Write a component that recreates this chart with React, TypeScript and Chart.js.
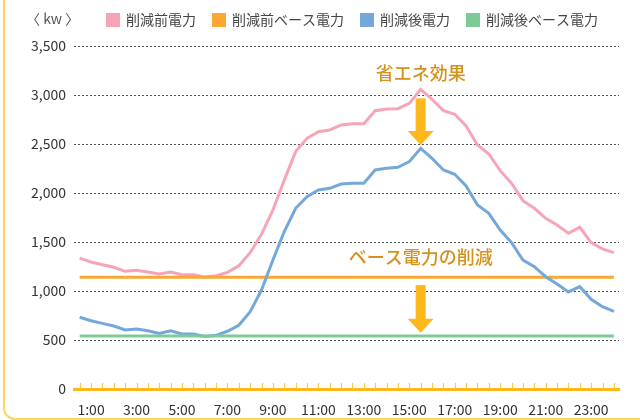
import React, { useEffect, useRef } from "react";
import { Chart, registerables } from "chart.js";

Chart.register(...registerables);

const timeLabels = [
  "0:30", "1:00", "1:30", "2:00", "2:30", "3:00", "3:30", "4:00", "4:30", "5:00", "5:30", "6:00",
  "6:30", "7:00", "7:30", "8:00", "8:30", "9:00", "9:30", "10:00", "10:30", "11:00", "11:30", "12:00",
  "12:30", "13:00", "13:30", "14:00", "14:30", "15:00", "15:30", "16:00", "16:30", "17:00", "17:30", "18:00",
  "18:30", "19:00", "19:30", "20:00", "20:30", "21:00", "21:30", "22:00", "22:30", "23:00", "23:30", "24:00",
];

const beforePower = [
  1335, 1296, 1268, 1242, 1201, 1211, 1194, 1173, 1194, 1167, 1167, 1143,
  1156, 1190, 1258, 1391, 1580, 1826, 2133, 2422, 2558, 2626, 2643, 2694,
  2707, 2707, 2840, 2857, 2860, 2915, 3058, 2956, 2840, 2803, 2684, 2490,
  2398, 2228, 2099, 1922, 1844, 1742, 1673, 1589, 1650, 1493, 1429, 1391,
];

const afterPower = [
  732, 697, 670, 643, 602, 612, 595, 568, 595, 561, 561, 537,
  548, 589, 650, 789, 1010, 1316, 1605, 1844, 1962, 2031, 2048, 2092,
  2099, 2099, 2235, 2252, 2262, 2320, 2456, 2354, 2235, 2191, 2072, 1878,
  1793, 1622, 1493, 1316, 1248, 1146, 1071, 990, 1044, 915, 840, 793,
];

const beforeBase = 1140;
const afterBase = 540;

const seriesNames = ["削減前電力", "削減前ベース電力", "削減後電力", "削減後ベース電力"];
const seriesColors = ["#F6A5B7", "#F9A833", "#75A8DA", "#7CCB97"];

const yTicks = [0, 500, 1000, 1500, 2000, 2500, 3000, 3500];
const unitLabel = "〈 kw 〉";
const noteSaving = "省エネ効果";
const noteBase = "ベース電力の削減";
const peakIndex = 30;

const FONT = "'Noto Sans CJK JP', 'Noto Sans', sans-serif";
const ARROW = "#FFB81C";
const NOTE = "#D4911C";

const overlayPlugin = {
  id: "overlay",
  afterDraw(chart: any) {
    const ctx = chart.ctx;
    const x = chart.scales.x;
    const y = chart.scales.y;
    const area = chart.chartArea;
    ctx.save();
    // tick marks above axis
    ctx.strokeStyle = "#FFC93C";
    ctx.lineWidth = 1.2;
    x.ticks.forEach((t: any) => {
      const px = Math.round(x.getPixelForValue(t.value)) + 0.5;
      ctx.beginPath();
      ctx.moveTo(px, area.bottom - 6);
      ctx.lineTo(px, area.bottom);
      ctx.stroke();
    });
    // unit label
    ctx.fillStyle = "#555";
    ctx.font = `14px ${FONT}`;
    ctx.textBaseline = "middle";
    ctx.textAlign = "left";
    ctx.fillText(unitLabel, 26, 19);
    // legend
    let lx = 106;
    seriesNames.forEach((name, i) => {
      ctx.fillStyle = seriesColors[i];
      ctx.fillRect(lx, 13, 14, 14);
      ctx.fillStyle = "#444";
      ctx.fillText(name, lx + 20, 20);
      lx += 20 + ctx.measureText(name).width + 16;
    });
    // annotations
    const cx = x.getPixelForValue(peakIndex);
    ctx.fillStyle = NOTE;
    ctx.font = `500 18px ${FONT}`;
    ctx.textAlign = "center";
    ctx.fillText(noteSaving, cx, y.getPixelForValue(3225));
    ctx.fillText(noteBase, cx, y.getPixelForValue(1347));
    const drawArrow = (top: number, tip: number) => {
      const headH = 14;
      ctx.fillStyle = ARROW;
      ctx.fillRect(cx - 5, top, 10, tip - headH - top + 1);
      ctx.beginPath();
      ctx.moveTo(cx - 13, tip - headH);
      ctx.lineTo(cx + 13, tip - headH);
      ctx.lineTo(cx, tip);
      ctx.closePath();
      ctx.fill();
    };
    drawArrow(y.getPixelForValue(2965), y.getPixelForValue(2490));
    drawArrow(y.getPixelForValue(1060), y.getPixelForValue(575));
    ctx.restore();
  },
};

export default function App() {
  const ref = useRef<HTMLCanvasElement | null>(null);
  useEffect(() => {
    document.body.style.margin = "0";
    if (!ref.current) return;
    const lastIdx = timeLabels.length - 1;
    const chart = new Chart(ref.current, {
      type: "line",
      data: {
        datasets: [
          {
            label: seriesNames[0],
            data: beforePower.map((v, i) => ({ x: i, y: v })),
            borderColor: seriesColors[0],
            borderWidth: 3,
            pointRadius: 0,
            order: 3,
          },
          {
            label: seriesNames[1],
            data: [{ x: 0, y: beforeBase }, { x: lastIdx, y: beforeBase }],
            borderColor: seriesColors[1],
            borderWidth: 3,
            pointRadius: 0,
            order: 2,
          },
          {
            label: seriesNames[2],
            data: afterPower.map((v, i) => ({ x: i, y: v })),
            borderColor: seriesColors[2],
            borderWidth: 3,
            pointRadius: 0,
            order: 1,
          },
          {
            label: seriesNames[3],
            data: [{ x: 0, y: afterBase }, { x: lastIdx, y: afterBase }],
            borderColor: seriesColors[3],
            borderWidth: 3,
            pointRadius: 0,
            order: 0,
          },
        ],
      },
      options: {
        animation: false,
        responsive: false,
        layout: { padding: { top: 46, right: 21, bottom: 0, left: 0 } },
        plugins: { legend: { display: false }, tooltip: { enabled: false } },
        scales: {
          x: {
            type: "linear",
            min: -0.5,
            max: lastIdx + 0.45,
            afterFit: (s: any) => {
              s.height = 31;
            },
            grid: { display: false, drawTicks: false },
            border: { display: true, color: "#FFB81C", width: 3 },
            ticks: {
              stepSize: 1,
              includeBounds: false,
              autoSkip: false,
              maxRotation: 0,
              padding: 12,
              color: "#333",
              font: { family: FONT, size: 14 },
              callback: (v: any) => {
                const i = Number(v);
                return Number.isInteger(i) && i % 4 === 1 ? timeLabels[i] : "";
              },
            },
          },
          y: {
            min: yTicks[0],
            max: yTicks[yTicks.length - 1],
            afterFit: (s: any) => {
              s.width = 74;
            },
            afterBuildTicks: (s: any) => {
              s.ticks = yTicks.map((v) => ({ value: v }));
            },
            grid: { color: "#555", lineWidth: 1, drawTicks: false },
            border: { display: false, dash: [2, 2] },
            ticks: {
              padding: 8,
              color: "#333",
              font: { family: FONT, size: 14 },
              callback: (v: any) => Number(v).toLocaleString("en-US"),
            },
          },
        },
      },
      plugins: [overlayPlugin],
    });
    return () => chart.destroy();
  }, []);
  return (
    <div style={{ position: "relative", width: 640, height: 420, overflow: "hidden", background: "#fff" }}>
      <div
        style={{
          position: "absolute",
          left: 3,
          top: -20,
          width: 700,
          height: 440,
          boxSizing: "border-box",
          border: "2px solid #FFD45C",
          borderRadius: 12,
        }}
      />
      <canvas ref={ref} width={640} height={420} style={{ position: "absolute", left: 0, top: 0 }} />
    </div>
  );
}
